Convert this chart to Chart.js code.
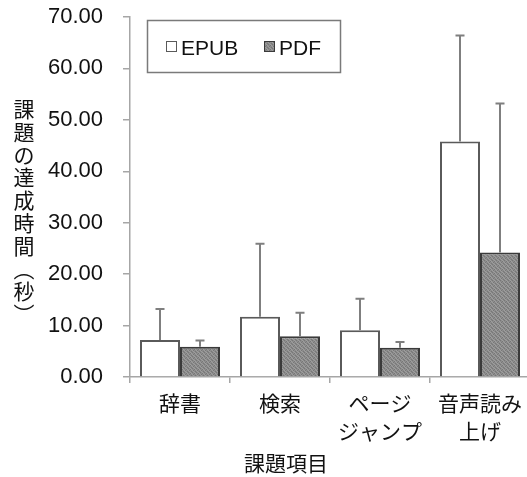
<!DOCTYPE html>
<html>
<head>
<meta charset="utf-8">
<script src="https://cdn.jsdelivr.net/npm/chart.js@4/dist/chart.umd.min.js"></script>
<style>
  html, body { margin: 0; padding: 0; background: #fff; overflow: hidden; }
  #wrap { width: 527px; height: 477px; overflow: hidden; }
</style>
</head>
<body>
<div id="wrap"><canvas id="c" width="540" height="477"></canvas></div>
<script>
// Task categories (x axis)
const categories = ['辞書', '検索', ['ページ', 'ジャンプ'], ['音声読み', '上げ']];
// Mean completion time (seconds)
const epubMeans = [7.2, 11.7, 9.1, 45.8];
const pdfMeans = [5.9, 7.9, 5.7, 24.2];
// Standard deviation (upper error bar)
const epubSD = [6.0, 14.2, 6.1, 20.6];
const pdfSD = [1.2, 4.6, 1.1, 29.0];
// Axis settings
const yMin = 0, yMax = 70, yStep = 10;
const yTitle = ['課', '題', 'の', '達', '成', '時', '間', '︵', '秒', '︶'];
const xTitle = '課題項目';

const FONT = "'Liberation Sans', 'Noto Sans CJK JP', Arial, sans-serif";

// Fine stipple fill for the PDF bars
function stipple() {
  const p = document.createElement('canvas');
  p.width = 4; p.height = 4;
  const g = p.getContext('2d');
  g.fillStyle = '#8c8c8c'; g.fillRect(0, 0, 4, 4);
  g.fillStyle = '#777777';
  g.fillRect(0, 0, 1, 1); g.fillRect(2, 1, 1, 1); g.fillRect(1, 2, 1, 1); g.fillRect(3, 3, 1, 1);
  g.fillStyle = '#9e9e9e';
  g.fillRect(2, 0, 1, 1); g.fillRect(0, 2, 1, 1); g.fillRect(3, 1, 1, 1); g.fillRect(1, 3, 1, 1);
  return g.createPattern(p, 'repeat');
}
const pdfFill = stipple();

// Upper error bars drawn from the bar value + SD
const errorBars = {
  id: 'errorBars',
  afterDatasetsDraw(chart) {
    const ctx = chart.ctx;
    const y = chart.scales.y;
    ctx.save();
    ctx.strokeStyle = '#7f7f7f';
    ctx.lineWidth = 2;
    chart.data.datasets.forEach((ds, i) => {
      const meta = chart.getDatasetMeta(i);
      meta.data.forEach((el, j) => {
        const top = y.getPixelForValue(ds.data[j] + ds.errors[j]);
        ctx.beginPath();
        ctx.moveTo(el.x, el.y);
        ctx.lineTo(el.x, top);
        ctx.moveTo(el.x - 4.5, top);
        ctx.lineTo(el.x + 4.5, top);
        ctx.stroke();
      });
    });
    ctx.restore();
  }
};

// Axis titles and boxed legend
const decorations = {
  id: 'decorations',
  afterDraw(chart) {
    const ctx = chart.ctx;
    ctx.save();
    ctx.fillStyle = '#111';
    ctx.textAlign = 'center';
    ctx.textBaseline = 'middle';
    ctx.font = "21px 'Noto Sans CJK JP', sans-serif";
    yTitle.forEach((ch, k) => ctx.fillText(ch, 24, 109 + k * 22.8));
    ctx.fillText(xTitle, 286, 463);

    // legend box
    ctx.strokeStyle = '#7a7a7a';
    ctx.lineWidth = 1.5;
    ctx.strokeRect(147.5, 20.5, 193, 52);
    ctx.font = '21px ' + FONT;
    ctx.textAlign = 'left';
    const entries = [{ x: 166, tx: 181 }, { x: 264, tx: 279 }];
    chart.data.datasets.forEach((ds, i) => {
      const e = entries[i];
      ctx.fillStyle = ds.backgroundColor;
      ctx.fillRect(e.x, 41, 11, 11);
      ctx.strokeStyle = ds.borderColor;
      ctx.lineWidth = 1;
      ctx.strokeRect(e.x + 0.5, 41.5, 10, 10);
      ctx.fillStyle = '#111';
      ctx.fillText(ds.label, e.tx, 49);
    });
    ctx.restore();
  }
};

new Chart(document.getElementById('c'), {
  type: 'bar',
  data: {
    labels: categories,
    datasets: [
      { label: 'EPUB', data: epubMeans, errors: epubSD, backgroundColor: '#ffffff', borderColor: '#5a5a5a', borderWidth: 2 },
      { label: 'PDF', data: pdfMeans, errors: pdfSD, backgroundColor: pdfFill, borderColor: '#3a3a3a', borderWidth: 2 }
    ]
  },
  options: {
    responsive: false,
    animation: false,
    devicePixelRatio: 1,
    layout: { padding: { left: 0, top: 17, right: 10, bottom: 0 } },
    plugins: { legend: { display: false }, tooltip: { enabled: false } },
    datasets: { bar: { categoryPercentage: 0.8, barPercentage: 1.0 } },
    scales: {
      x: {
        offset: true,
        grid: { offset: true, drawOnChartArea: false, color: '#a6a6a6', tickLength: 6, lineWidth: 1.5 },
        border: { color: '#a6a6a6', width: 1.5 },
        ticks: { color: '#111', font: { family: FONT, size: 21, lineHeight: 1.3 }, padding: 9, maxRotation: 0, autoSkip: false },
        afterFit(s) { s.height = 100; s.paddingLeft = 0; s.paddingRight = 0; s.paddingTop = 0; s.paddingBottom = 0; }
      },
      y: {
        min: yMin, max: yMax,
        grid: { drawOnChartArea: false, color: '#a6a6a6', tickLength: 7, lineWidth: 1.5 },
        border: { color: '#a6a6a6', width: 1.5 },
        ticks: { stepSize: yStep, color: '#111', font: { family: FONT, size: 22 }, padding: 20,
                 callback: v => v.toFixed(2) },
        afterFit(s) { s.width = 130; s.paddingTop = 0; s.paddingBottom = 0; }
      }
    }
  },
  plugins: [errorBars, decorations]
});
</script>
</body>
</html>
